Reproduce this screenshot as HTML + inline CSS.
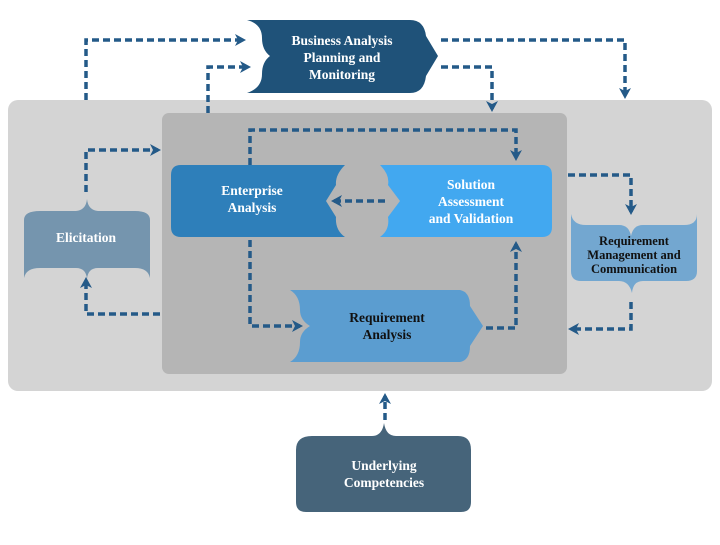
<!DOCTYPE html>
<html><head><style>
body{margin:0;width:720px;height:540px;background:#fff;overflow:hidden}
text{font-family:"Liberation Serif",serif;font-weight:bold;font-size:13.5px;text-anchor:middle}
</style></head><body>
<svg width="720" height="540" viewBox="0 0 720 540">
<defs>
<marker id="a" markerWidth="12" markerHeight="12" refX="8" refY="6" orient="auto" markerUnits="userSpaceOnUse"><path d="M0,0 L11,6 L0,12 L3,6z" fill="#245a88"/></marker>
</defs>
<rect x="8" y="100" width="704" height="291" rx="10" fill="#d4d4d4"/>
<rect x="162" y="113" width="405" height="261" rx="7" fill="#b5b5b5"/>
<path d="M247,20 L410,20 Q424,20 426,36 L438,56 L426,76 Q424,93 410,93 L247,93 Q262,88 262,74 Q262,62 270,56 Q262,50 262,38 Q262,24 247,20z" fill="#1f5279"/>
<text fill="#fff" x="342" y="45">Business Analysis</text>
<text fill="#fff" x="342" y="62">Planning and</text>
<text fill="#fff" x="342" y="79">Monitoring</text>
<path d="M181,165 L345,165 Q335,175 336,185 L326,201 L336,217 Q335,230 345,237 L181,237 Q171,237 171,227 L171,175 Q171,165 181,165z" fill="#2e7fba"/>
<path d="M380,165 L542,165 Q552,165 552,175 L552,227 Q552,237 542,237 L380,237 Q390,230 388,217 L400,201 L388,185 Q390,175 380,165z" fill="#42a8f0"/>
<text fill="#fff" x="252" y="195">Enterprise</text>
<text fill="#fff" x="252" y="212">Analysis</text>
<text fill="#fff" x="471" y="189">Solution</text>
<text fill="#fff" x="471" y="206">Assessment</text>
<text fill="#fff" x="471" y="223">and Validation</text>
<path d="M290,290 L460,290 Q470,292 470,306 L483,326 L470,346 Q470,360 460,362 L290,362 Q300,356 300,342 Q300,332 310,326 Q300,320 300,310 Q300,296 290,290z" fill="#5b9dd0"/>
<text fill="#111" x="387" y="322">Requirement</text>
<text fill="#111" x="387" y="339">Analysis</text>
<path d="M24,220 Q24,211 40,211 L76,211 Q86,210 87,199 Q88,210 98,211 L135,211 Q150,211 150,220 L150,278 Q148,268 135,268 L98,268 Q88,268 87,279 Q86,268 76,268 L40,268 Q26,268 24,278z" fill="#7595ae"/>
<text fill="#fff" x="86" y="242">Elicitation</text>
<path d="M571,214 Q573,225 586,225 L619,225 Q629,225 631,236 Q633,225 643,225 L684,225 Q697,225 697,214 L697,271 Q697,281 686,281 L643,281 Q633,281 632,293 Q629,281 619,281 L581,281 Q571,281 571,271z" fill="#73a7d0"/>
<text fill="#111" x="634" y="245" style="font-size:12.5px">Requirement</text>
<text fill="#111" x="634" y="259" style="font-size:12.5px">Management and</text>
<text fill="#111" x="634" y="273" style="font-size:12.5px">Communication</text>
<path d="M296,450 Q296,436 312,436 L372,436 Q382,436 384,423 Q386,436 396,436 L458,436 Q471,436 471,450 L471,502 Q471,512 461,512 L306,512 Q296,512 296,502z" fill="#46647a"/>
<text fill="#fff" x="384" y="470">Underlying</text>
<text fill="#fff" x="384" y="487">Competencies</text>
<g fill="none" stroke="#245a88" stroke-width="3.5" stroke-dasharray="7,4" marker-end="url(#a)">
<path d="M86,100 L86,40 L243,40"/>
<path d="M208,113 L208,67 L248,67"/>
<path d="M441,40 L625,40 L625,96"/>
<path d="M441,67 L492,67 L492,109"/>
<path d="M250,165 L250,130 L516,130 L516,158"/>
<path d="M385,201 L334,201"/>
<path d="M250,240 L250,326 L300,326"/>
<path d="M486,328 L516,328 L516,244"/>
<path d="M86,192 L86,150 L158,150"/>
<path d="M160,314 L86,314 L86,280"/>
<path d="M568,175 L631,175 L631,212"/>
<path d="M631,302 L631,329 L571,329"/>
<path d="M385,420 L385,396"/>
</g>
</svg>
</body></html>
